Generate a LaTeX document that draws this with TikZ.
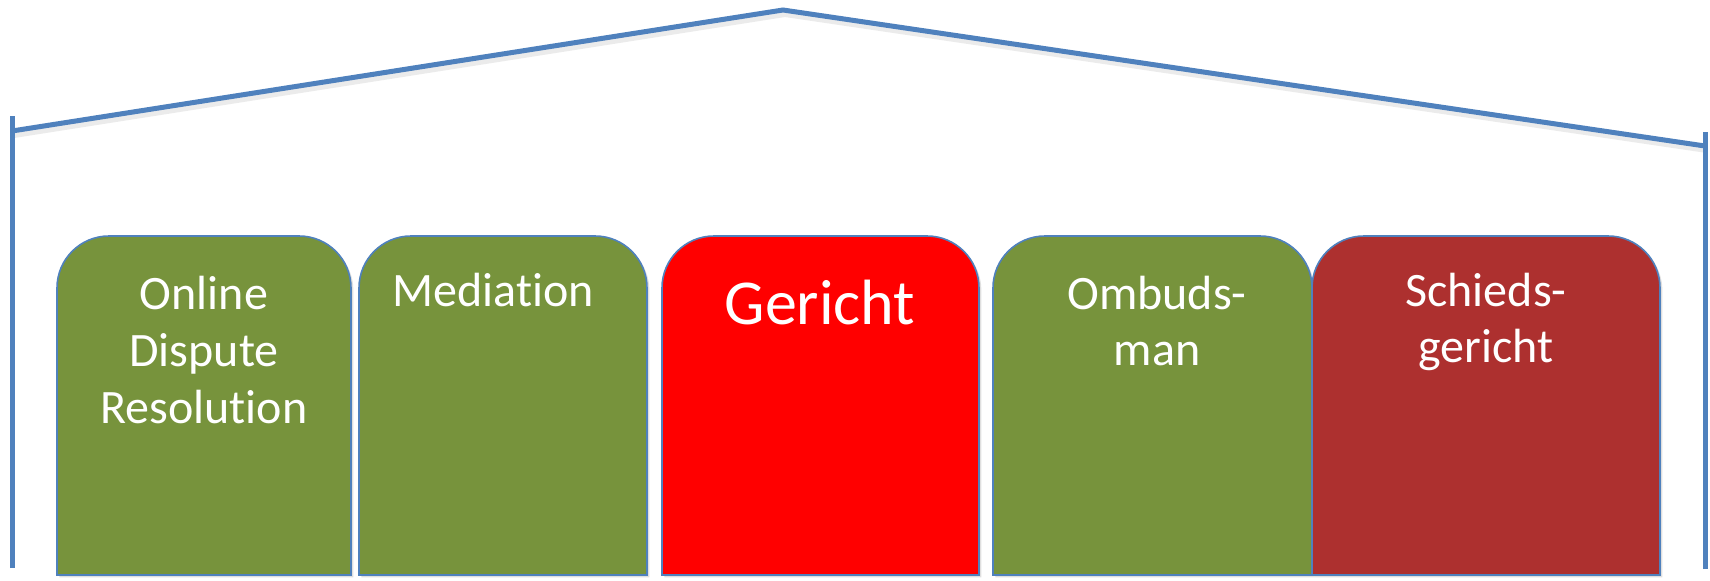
\documentclass[tikz,border=0pt]{standalone}
\usepackage{fontspec}
\setmainfont{Carlito}[Ligatures=NoCommon]
\usetikzlibrary{shadows}
\definecolor{roofblue}{HTML}{4F81BD}
\definecolor{olivegreen}{HTML}{77933C}
\definecolor{brightred}{HTML}{FF0000}
\definecolor{darkred}{HTML}{AD302F}
\tikzset{
  frame/.style={draw=roofblue, line width=2.5pt, line cap=butt, line join=miter},
  frameshadow/.style={draw=black, opacity=0.08, line width=3pt},
  tower/.style={draw=roofblue, line width=0.8pt,
    drop shadow={shadow xshift=1.2pt, shadow yshift=-1.2pt, opacity=0.25}},
  label/.style={text=white, inner sep=0pt, anchor=base, font=\fontsize{24}{28}\selectfont},
  biglabel/.style={label, font=\fontsize{32}{38}\selectfont},
}
\begin{document}
\begin{tikzpicture}[x=0.5pt, y=0.5pt]
\useasboundingbox (0,0) rectangle (1710,580);
% frame coordinates
\coordinate (lbot) at (12,12);
\coordinate (ltop) at (12,464);
\coordinate (lroof) at (12,449);
\coordinate (peak) at (783,570);
\coordinate (rroof) at (1705,434);
\coordinate (rtop) at (1705,448);
\coordinate (rbot) at (1705,11);
% shadows of the frame
\draw[frameshadow, transform canvas={xshift=1pt, yshift=-2pt}] (lroof) -- (peak) -- (rroof);
% frame
\draw[frame] (lbot) -- (ltop);
\draw[frame] (rbot) -- (rtop);
\draw[frame] (lroof) -- (peak) -- (rroof);
% towers
\def\r{52}
\filldraw[tower, fill=olivegreen] (57,5) -- (57,344-\r) arc[start angle=180, end angle=90, radius=\r] -- (351-\r,344) arc[start angle=90, end angle=0, radius=\r] -- (351,5) -- cycle;
\filldraw[tower, fill=olivegreen] (359,5) -- (359,344-\r) arc[start angle=180, end angle=90, radius=\r] -- (647-\r,344) arc[start angle=90, end angle=0, radius=\r] -- (647,5) -- cycle;
\filldraw[tower, fill=brightred] (662,5) -- (662,344-\r) arc[start angle=180, end angle=90, radius=\r] -- (979-\r,344) arc[start angle=90, end angle=0, radius=\r] -- (979,5) -- cycle;
\filldraw[tower, fill=olivegreen] (993,5) -- (993,344-\r) arc[start angle=180, end angle=90, radius=\r] -- (1312-\r,344) arc[start angle=90, end angle=0, radius=\r] -- (1312,5) -- cycle;
\filldraw[tower, fill=darkred] (1312,5) -- (1312,344-\r) arc[start angle=180, end angle=90, radius=\r] -- (1660-\r,344) arc[start angle=90, end angle=0, radius=\r] -- (1660,5) -- cycle;
% labels
\node[label] (odr1) at (204,271) {Online};
\node[label] (odr2) at (204,214) {Dispute};
\node[label] (odr3) at (204,157) {Resolution};
\node[label] (med) at (493,274) {Mediation};
\node[biglabel] (ger) at (820,256) {Gericht};
\node[label] (omb1) at (1157,271) {Ombuds-};
\node[label] (omb2) at (1157,215) {man};
\node[label] (sch1) at (1486,274) {Schieds-};
\node[label] (sch2) at (1486,218) {gericht};
\end{tikzpicture}
\end{document}
